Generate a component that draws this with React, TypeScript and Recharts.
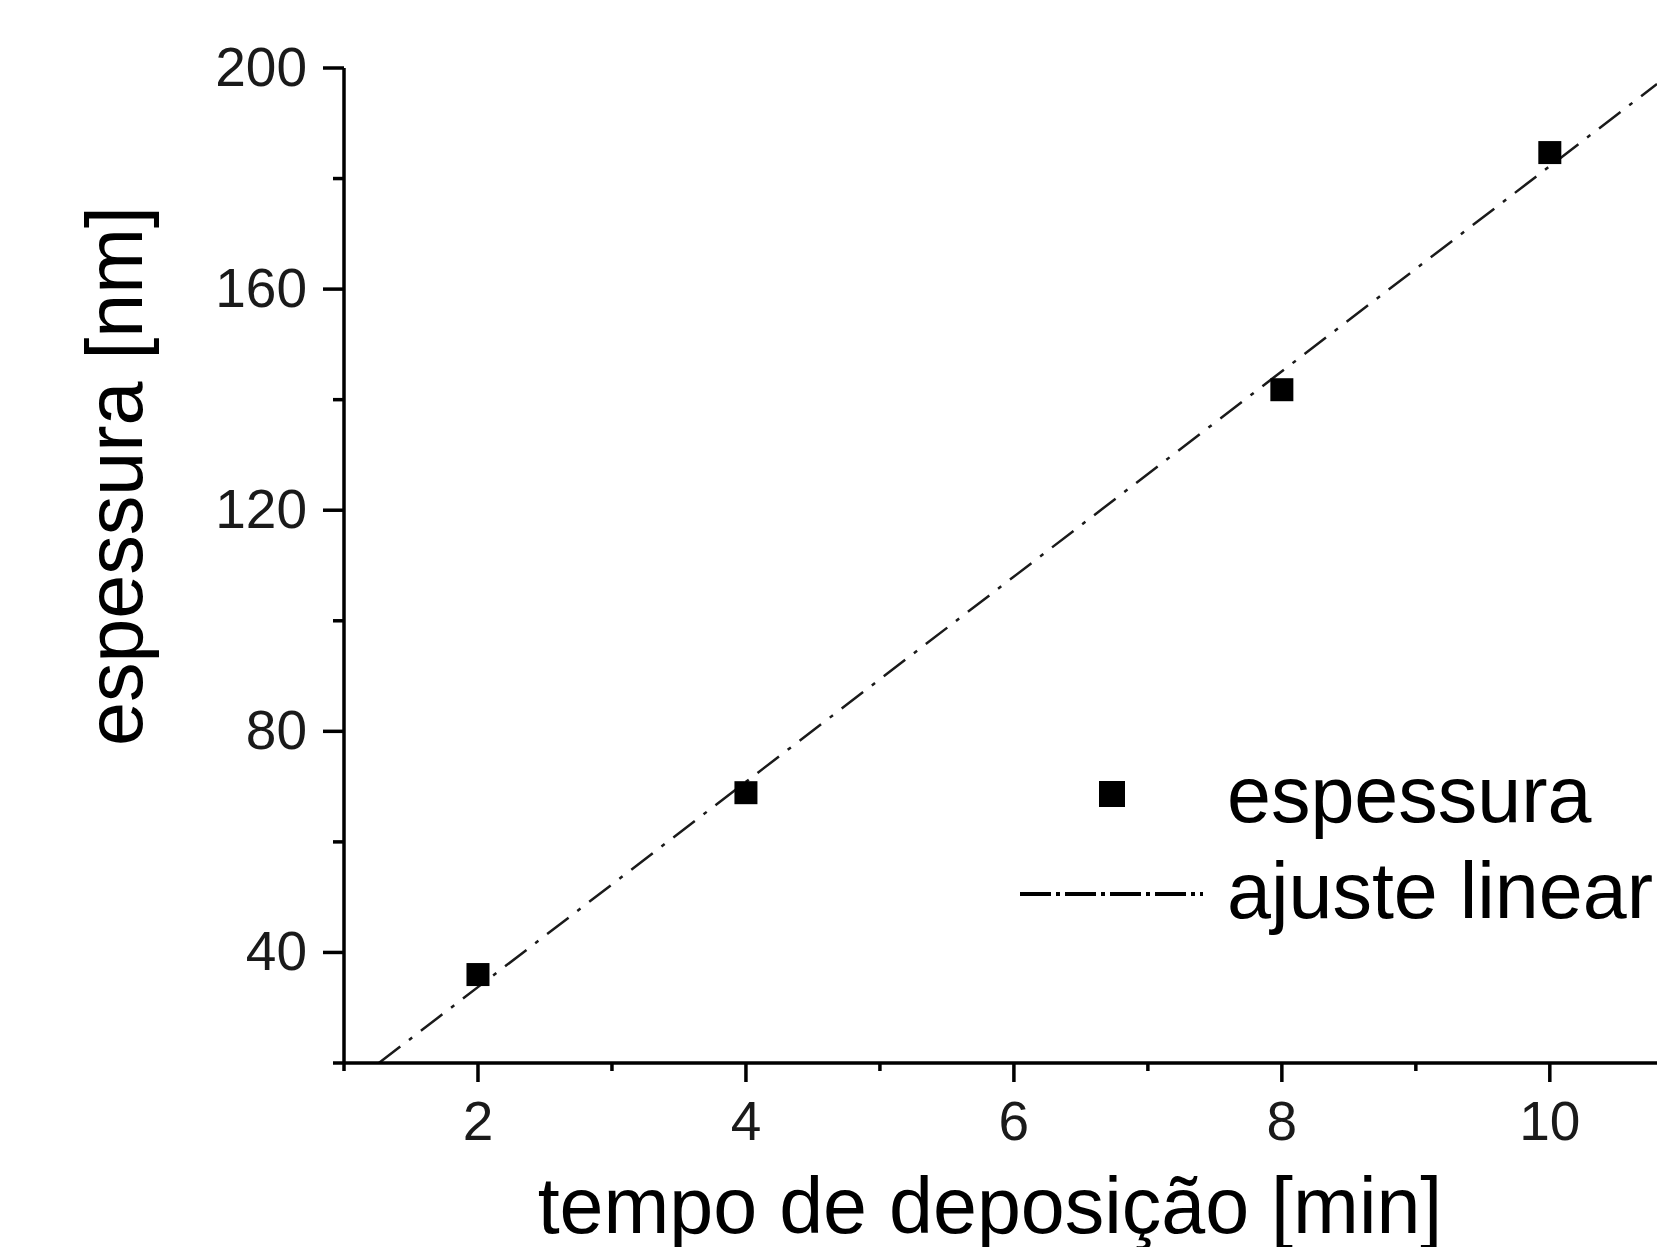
import {
  ComposedChart,
  Scatter,
  Line,
  XAxis,
  YAxis,
  Legend,
} from "recharts";

const depositionTime = [2, 4, 8, 10];
const thickness = [36, 68.9, 141.8, 184.7];
const fitTime = [1.26, 10.8];
const fitThickness = [20, 197.1];
const xTicks = [1, 2, 3, 4, 5, 6, 7, 8, 9, 10];
const yTicks = [20, 40, 60, 80, 100, 120, 140, 160, 180, 200];

const FONT = "'Liberation Sans', Arial, Helvetica, sans-serif";

const points = depositionTime.map((x, i) => ({ x, y: thickness[i] }));
const fit = fitTime.map((x, i) => ({ x, y: fitThickness[i] }));

const XTick = (props: any) => {
  const { x, y, payload } = props;
  const major = payload.value % 2 === 0;
  return (
    <g>
      <line x1={x} x2={x} y1={y} y2={y + (major ? 19 : 8)} stroke="#000" strokeWidth={3.5} />
      {major && (
        <text x={x} y={y + 77} textAnchor="middle" fontSize={55} fontFamily={FONT} fill="#1a1a1a">
          {payload.value}
        </text>
      )}
    </g>
  );
};

const YTick = (props: any) => {
  const { x, y, payload } = props;
  const major = payload.value % 40 === 0;
  return (
    <g>
      <line x1={x} x2={x - (major ? 21 : 11)} y1={y} y2={y} stroke="#000" strokeWidth={3.5} />
      {major && (
        <text x={x - 37} y={y + 18} textAnchor="end" fontSize={55} fontFamily={FONT} fill="#1a1a1a">
          {payload.value}
        </text>
      )}
    </g>
  );
};

const LegendBox = () => (
  <svg width={657} height={200} style={{ display: "block" }}>
    <rect x={99} y={41} width={26} height={26} fill="#000" />
    <text x={227} y={82} fontSize={79} fontFamily={FONT} fill="#000">
      espessura
    </text>
    <line x1={20} x2={203} y1={154} y2={154} stroke="#000" strokeWidth={4} strokeDasharray="31 5 4 5" />
    <text x={227} y={178} fontSize={79} fontFamily={FONT} fill="#000">
      ajuste linear
    </text>
  </svg>
);

export default function App() {
  return (
    <div
      style={{
        position: "absolute",
        left: 0,
        top: 0,
        width: 1657,
        height: 1247,
        overflow: "hidden",
        background: "#fff",
      }}
    >
      <ComposedChart
        width={1657}
        height={1247}
        margin={{ top: 68, right: 0, left: 0, bottom: 0 }}
      >
        <XAxis
          type="number"
          dataKey="x"
          domain={[1, 10.8]}
          ticks={xTicks}
          allowDataOverflow
          height={184}
          tickSize={0}
          tickMargin={0}
          tickLine={false}
          axisLine={{ stroke: "#000", strokeWidth: 3.5 }}
          tick={<XTick />}
          interval={0}
          label={{
            content: () => (
              <text x={990} y={1233} textAnchor="middle" fontSize={79} fontFamily={FONT} fill="#000">
                tempo de deposição [min]
              </text>
            ),
          }}
        />
        <YAxis
          type="number"
          dataKey="y"
          domain={[20, 200]}
          ticks={yTicks}
          allowDataOverflow
          width={344}
          tickSize={0}
          tickMargin={0}
          tickLine={false}
          axisLine={{ stroke: "#000", strokeWidth: 3.5 }}
          tick={<YTick />}
          interval={0}
          label={{
            content: () => (
              <text
                x={142}
                y={476}
                transform="rotate(-90, 142, 476)"
                textAnchor="middle"
                fontSize={79}
                fontFamily={FONT}
                fill="#000"
              >
                espessura [nm]
              </text>
            ),
          }}
        />
        <Line
          data={fit}
          dataKey="y"
          type="linear"
          stroke="#1a1a1a"
          strokeWidth={2.5}
          strokeDasharray="27 11 4 11"
          dot={false}
          activeDot={false}
          isAnimationActive={false}
        />
        <Scatter
          data={points}
          dataKey="y"
          fill="#000"
          isAnimationActive={false}
          shape={(p: any) => (
            <rect x={p.cx - 11.5} y={p.cy - 11.5} width={23} height={23} fill="#000" />
          )}
        />
        <Legend
          layout="horizontal"
          verticalAlign="middle"
          align="center"
          content={() => <LegendBox />}
          wrapperStyle={{ position: "absolute", left: 1000, top: 740, width: 657, height: 200 }}
        />
      </ComposedChart>
    </div>
  );
}
